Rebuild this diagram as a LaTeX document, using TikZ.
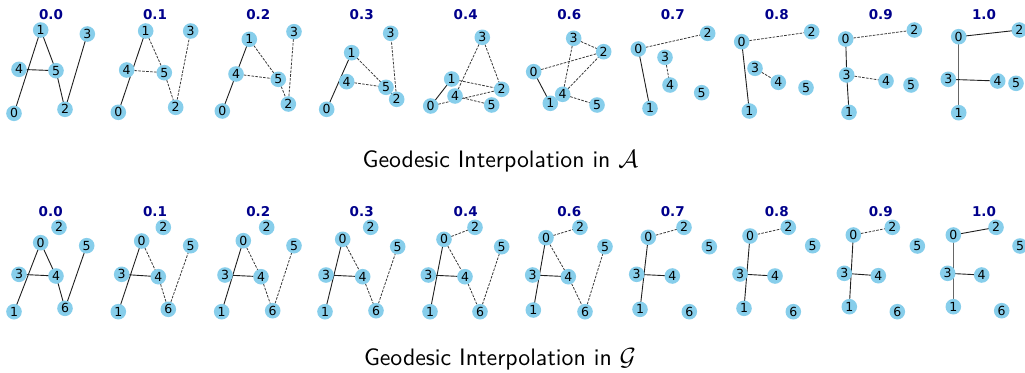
\documentclass[tikz,border=0pt]{standalone}
\usepackage{fontspec}
\newfontfamily\dejavu{DejaVu Sans}
\newfontfamily\capfont{lmsans10-regular.otf}
\usetikzlibrary{backgrounds}
\definecolor{skyb}{HTML}{87CEEB}
\definecolor{ttl}{HTML}{00008B}
\newcommand\vx[4]{\node[vtx] (#1) at (#2,#3) {#4};}
\newcommand\edS[2]{\draw[sol] (#1.center) -- (#2.center);}
\newcommand\edD[2]{\draw[dsh] (#1.center) -- (#2.center);}
\newcommand\edG[2]{\draw[gsol] (#1.center) -- (#2.center);}
\begin{document}
\begin{tikzpicture}[x=1pt,y=-1pt,
  vtx/.style={circle,fill=skyb,inner sep=0pt,minimum size=15.6pt,font=\dejavu\fontsize{12.5}{12.5}\selectfont},
  sol/.style={draw=black!88,line width=0.9pt},
  gsol/.style={draw=black!60,line width=1.1pt},
  dsh/.style={draw=black!78,line width=0.8pt,dash pattern=on 2.6pt off 1.3pt},
  ttlstyle/.style={text=ttl,font=\dejavu\bfseries\fontsize{13.5}{13.5}\selectfont,inner sep=0pt},
  captext/.style={anchor=base,inner sep=0pt,font=\capfont\fontsize{23.8}{28}\selectfont}]
\useasboundingbox (0,0) rectangle (1025,372);
% ---------------- top row ----------------
% 0.0
\node[ttlstyle] (ta0) at (51,15) {0.0};
\vx{a0n0}{14}{113.3}{0}\vx{a0n1}{40.7}{30}{1}\vx{a0n2}{65}{109.3}{2}
\vx{a0n3}{87.3}{34}{3}\vx{a0n4}{19}{69.3}{4}\vx{a0n5}{56}{70.7}{5}
\begin{pgfonlayer}{background}
\edS{a0n0}{a0n1}\edS{a0n1}{a0n5}\edS{a0n4}{a0n5}\edS{a0n5}{a0n2}\edS{a0n2}{a0n3}
\end{pgfonlayer}
% 0.1
\node[ttlstyle] (ta1) at (155,15) {0.1};
\vx{a1n0}{118.3}{112.3}{0}\vx{a1n1}{145.7}{31}{1}\vx{a1n2}{175.7}{107.3}{2}
\vx{a1n3}{190.7}{31}{3}\vx{a1n4}{126.7}{70}{4}\vx{a1n5}{164.3}{72.7}{5}
\begin{pgfonlayer}{background}
\edS{a1n0}{a1n1}\edD{a1n1}{a1n5}\edD{a1n4}{a1n5}\edD{a1n5}{a1n2}\edD{a1n2}{a1n3}
\end{pgfonlayer}
% 0.2
\node[ttlstyle] (ta2) at (258.3,15) {0.2};
\vx{a2n0}{222.3}{111}{0}\vx{a2n1}{249.3}{39.3}{1}\vx{a2n2}{288.3}{104}{2}
\vx{a2n3}{294}{31.7}{3}\vx{a2n4}{236}{74}{4}\vx{a2n5}{278.3}{79.3}{5}
\begin{pgfonlayer}{background}
\edS{a2n0}{a2n1}\edD{a2n1}{a2n5}\edD{a2n4}{a2n5}\edD{a2n5}{a2n2}\edD{a2n2}{a2n3}
\end{pgfonlayer}
% 0.3
\node[ttlstyle] (ta3) at (361.7,15) {0.3};
\vx{a3n0}{326.7}{109.3}{0}\vx{a3n1}{351.7}{52.7}{1}\vx{a3n3}{390.7}{33.3}{3}
\vx{a3n4}{346.7}{81.7}{4}\vx{a3n5}{386}{87.3}{5}\vx{a3n2}{396.7}{99.3}{2}
\begin{pgfonlayer}{background}
\edS{a3n0}{a3n1}\edD{a3n1}{a3n5}\edD{a3n4}{a3n5}\edD{a3n5}{a3n2}\edD{a3n2}{a3n3}
\end{pgfonlayer}
% 0.4
\node[ttlstyle] (ta4) at (465.7,15) {0.4};
\vx{a4n0}{430.7}{106}{0}\vx{a4n1}{451.7}{79}{1}\vx{a4n2}{501.7}{89.3}{2}
\vx{a4n3}{482.3}{37.3}{3}\vx{a4n4}{455}{96}{4}\vx{a4n5}{491.7}{105}{5}
\begin{pgfonlayer}{background}
\edS{a4n0}{a4n1}\edD{a4n1}{a4n2}\edD{a4n3}{a4n2}\edD{a4n3}{a4n4}\edD{a4n0}{a4n2}\edD{a4n4}{a4n5}
\end{pgfonlayer}
% 0.6
\node[ttlstyle] (ta5) at (569.3,15) {0.6};
\vx{a5n0}{533.7}{71.7}{0}\vx{a5n1}{550.3}{103.3}{1}\vx{a5n2}{603.7}{51.7}{2}
\vx{a5n3}{573.7}{38.3}{3}\vx{a5n4}{562.7}{94.3}{4}\vx{a5n5}{597}{105}{5}
\begin{pgfonlayer}{background}
\edS{a5n0}{a5n1}\edD{a5n3}{a5n2}\edD{a5n0}{a5n2}\edD{a5n3}{a5n4}\edD{a5n4}{a5n2}\edD{a5n4}{a5n5}
\end{pgfonlayer}
% 0.7
\node[ttlstyle] (ta6) at (672.7,15) {0.7};
\vx{a6n0}{638.3}{49}{0}\vx{a6n1}{650}{108.3}{1}\vx{a6n2}{707.7}{33.3}{2}
\vx{a6n3}{665}{57.3}{3}\vx{a6n4}{670}{85}{4}\vx{a6n5}{701.7}{92.7}{5}
\begin{pgfonlayer}{background}
\edS{a6n0}{a6n1}\edD{a6n0}{a6n2}\edD{a6n3}{a6n4}
\end{pgfonlayer}
% 0.8
\node[ttlstyle] (ta7) at (776.7,15) {0.8};
\vx{a7n0}{741.7}{41.7}{0}\vx{a7n1}{749.3}{111}{1}\vx{a7n2}{811.7}{31.7}{2}
\vx{a7n3}{755}{68.3}{3}\vx{a7n4}{778.3}{82.3}{4}\vx{a7n5}{806}{87.7}{5}
\begin{pgfonlayer}{background}
\edS{a7n0}{a7n1}\edD{a7n0}{a7n2}\edD{a7n3}{a7n4}
\end{pgfonlayer}
% 0.9
\node[ttlstyle] (ta8) at (880.7,15) {0.9};
\vx{a8n0}{845.7}{39}{0}\vx{a8n1}{849}{112.3}{1}\vx{a8n2}{914.3}{30}{2}
\vx{a8n3}{846.7}{75}{3}\vx{a8n4}{886}{81}{4}\vx{a8n5}{911}{85}{5}
\begin{pgfonlayer}{background}
\edS{a8n0}{a8n3}\edS{a8n3}{a8n1}\edD{a8n0}{a8n2}\edD{a8n3}{a8n4}
\end{pgfonlayer}
% 1.0
\node[ttlstyle] (ta9) at (984,15) {1.0};
\vx{a9n0}{958.7}{36.7}{0}\vx{a9n1}{958.7}{112.7}{1}\vx{a9n2}{1019.3}{30}{2}
\vx{a9n3}{948.3}{79.3}{3}\vx{a9n4}{997.7}{81}{4}\vx{a9n5}{1016}{83.3}{5}
\begin{pgfonlayer}{background}
\edS{a9n0}{a9n2}\edG{a9n0}{a9n1}\edS{a9n3}{a9n4}
\end{pgfonlayer}
\node[captext] (capA) at (500.5,167) {Geodesic Interpolation in $\mathcal{A}$};
% ---------------- bottom row ----------------
% 0.0
\node[ttlstyle] (tg0) at (50.7,211.7) {0.0};
\vx{g0n0}{40.7}{242.7}{0}\vx{g0n1}{14}{311.7}{1}\vx{g0n2}{59}{227.3}{2}\vx{g0n3}{19}{274.3}{3}
\vx{g0n4}{56}{276}{4}\vx{g0n5}{86.7}{245.7}{5}\vx{g0n6}{65}{308.3}{6}
\begin{pgfonlayer}{background}
\edS{g0n1}{g0n0}\edS{g0n0}{g0n4}\edS{g0n3}{g0n4}\edS{g0n4}{g0n6}\edS{g0n6}{g0n5}
\end{pgfonlayer}
% 0.1
\node[ttlstyle] (tg1) at (155,211.7) {0.1};
\vx{g1n0}{141.7}{241}{0}\vx{g1n1}{118.3}{311.7}{1}\vx{g1n2}{163.3}{227.3}{2}\vx{g1n3}{121.7}{274.3}{3}
\vx{g1n4}{158.3}{276.7}{4}\vx{g1n5}{190.7}{245.7}{5}\vx{g1n6}{168.3}{309.3}{6}
\begin{pgfonlayer}{background}
\edS{g1n1}{g1n0}\edS{g1n3}{g1n4}\edD{g1n0}{g1n4}\edD{g1n4}{g1n6}\edD{g1n6}{g1n5}
\end{pgfonlayer}
% 0.2
\node[ttlstyle] (tg2) at (258.3,211.7) {0.2};
\vx{g2n0}{243.3}{240.7}{0}\vx{g2n1}{221.7}{311.7}{1}\vx{g2n2}{266.7}{227.3}{2}\vx{g2n3}{225}{275}{3}
\vx{g2n4}{261}{276.7}{4}\vx{g2n5}{294}{245.7}{5}\vx{g2n6}{272.7}{310.7}{6}
\begin{pgfonlayer}{background}
\edS{g2n1}{g2n0}\edS{g2n3}{g2n4}\edD{g2n0}{g2n4}\edD{g2n4}{g2n6}\edD{g2n6}{g2n5}
\end{pgfonlayer}
% 0.3
\node[ttlstyle] (tg3) at (361.7,211.7) {0.3};
\vx{g3n0}{342.7}{239.3}{0}\vx{g3n1}{325}{311.7}{1}\vx{g3n2}{370.7}{227.3}{2}\vx{g3n3}{326}{275}{3}
\vx{g3n4}{362.7}{276.7}{4}\vx{g3n5}{397.7}{246.7}{5}\vx{g3n6}{376}{310.7}{6}
\begin{pgfonlayer}{background}
\edS{g3n1}{g3n0}\edS{g3n3}{g3n4}\edD{g3n0}{g3n4}\edD{g3n4}{g3n6}\edD{g3n6}{g3n5}
\end{pgfonlayer}
% 0.4
\node[ttlstyle] (tg4) at (465.7,211.7) {0.4};
\vx{g4n0}{444}{239.3}{0}\vx{g4n1}{430}{311.7}{1}\vx{g4n2}{475}{227.3}{2}\vx{g4n3}{428.3}{275}{3}
\vx{g4n4}{465}{276.7}{4}\vx{g4n5}{501.7}{246.7}{5}\vx{g4n6}{480}{311.7}{6}
\begin{pgfonlayer}{background}
\edS{g4n1}{g4n0}\edS{g4n3}{g4n4}\edD{g4n0}{g4n2}\edD{g4n0}{g4n4}\edD{g4n4}{g4n6}\edD{g4n6}{g4n5}
\end{pgfonlayer}
% 0.6
\node[ttlstyle] (tg5) at (569.3,211.7) {0.6};
\vx{g5n0}{546}{237.7}{0}\vx{g5n1}{533.3}{310}{1}\vx{g5n2}{580}{227.3}{2}\vx{g5n3}{532.7}{275}{3}
\vx{g5n4}{568.3}{276.7}{4}\vx{g5n5}{605}{246.7}{5}\vx{g5n6}{585}{311.7}{6}
\begin{pgfonlayer}{background}
\edS{g5n1}{g5n0}\edS{g5n3}{g5n4}\edD{g5n0}{g5n2}\edD{g5n0}{g5n4}\edD{g5n4}{g5n6}\edD{g5n6}{g5n5}
\end{pgfonlayer}
% 0.7
\node[ttlstyle] (tg6) at (672.7,211.7) {0.7};
\vx{g6n0}{648.3}{237.3}{0}\vx{g6n1}{640}{309.3}{1}\vx{g6n2}{684}{227.3}{2}\vx{g6n3}{636.7}{274.3}{3}
\vx{g6n4}{672.3}{276}{4}\vx{g6n5}{709.3}{246.7}{5}\vx{g6n6}{689.3}{311.7}{6}
\begin{pgfonlayer}{background}
\edS{g6n0}{g6n1}\edS{g6n3}{g6n4}\edD{g6n0}{g6n2}
\end{pgfonlayer}
% 0.8
\node[ttlstyle] (tg7) at (776.7,211.7) {0.8};
\vx{g7n0}{750}{236}{0}\vx{g7n1}{744}{308.3}{1}\vx{g7n2}{788.3}{227.3}{2}\vx{g7n3}{740}{274}{3}
\vx{g7n4}{775}{276}{4}\vx{g7n5}{812.7}{245.7}{5}\vx{g7n6}{793.3}{311.7}{6}
\begin{pgfonlayer}{background}
\edS{g7n0}{g7n1}\edS{g7n3}{g7n4}\edD{g7n0}{g7n2}
\end{pgfonlayer}
% 0.9
\node[ttlstyle] (tg8) at (880.7,211.7) {0.9};
\vx{g8n0}{853.3}{235}{0}\vx{g8n1}{849.3}{306.7}{1}\vx{g8n2}{892.3}{227.3}{2}\vx{g8n3}{844.3}{273.3}{3}
\vx{g8n4}{878.3}{275.7}{4}\vx{g8n5}{917.3}{246}{5}\vx{g8n6}{897.3}{311.7}{6}
\begin{pgfonlayer}{background}
\edS{g8n0}{g8n1}\edS{g8n3}{g8n4}\edD{g8n0}{g8n2}
\end{pgfonlayer}
% 1.0
\node[ttlstyle] (tg9) at (984,211.7) {1.0};
\vx{g9n0}{953.3}{235}{0}\vx{g9n1}{953.3}{306.7}{1}\vx{g9n2}{996}{227.3}{2}\vx{g9n3}{947.7}{273.3}{3}
\vx{g9n4}{981.7}{275}{4}\vx{g9n5}{1020}{246}{5}\vx{g9n6}{1001.7}{310.7}{6}
\begin{pgfonlayer}{background}
\edS{g9n0}{g9n2}\edG{g9n0}{g9n1}\edS{g9n3}{g9n4}
\end{pgfonlayer}
\node[captext] (capG) at (500,365) {Geodesic Interpolation in $\mathcal{G}$};
\end{tikzpicture}
\end{document}
